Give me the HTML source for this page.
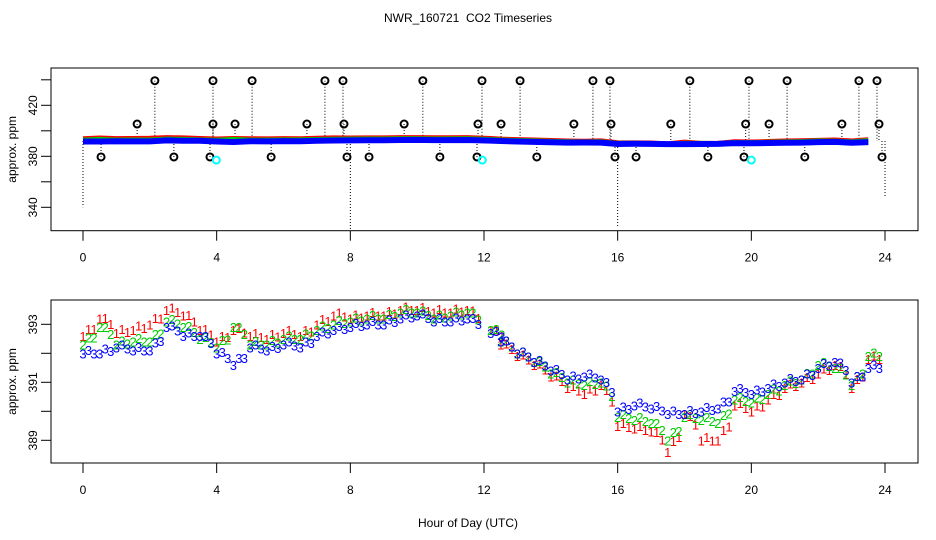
<!DOCTYPE html>
<html><head><meta charset="utf-8"><style>
html,body{margin:0;padding:0;background:#fff;}
svg{display:block;font-family:"Liberation Sans",sans-serif;}
</style></head><body>
<svg id="chart" width="936" height="540" viewBox="0 0 936 540">
<text x="468" y="22" text-anchor="middle" font-size="12" style="white-space:pre">NWR_160721  CO2 Timeseries</text>
<text x="468" y="527" text-anchor="middle" font-size="12">Hour of Day (UTC)</text>
<g id="topPanel"></g>
<g id="botPanel"></g>
</svg>
<script>
const hours = [0,0.5,1,1.5,2,2.5,3,3.5,4,4.5,5,5.5,6,6.5,7,7.5,8,8.5,9,9.5,10,10.5,11,11.5,12.2,12.5,13,13.5,14,14.5,15,15.5,16,16.5,17,17.5,18,18.5,19,19.5,20,20.5,21,21.5,22,22.5,23,23.5];
const series1 = [392.6,393.2,392.7,392.8,393.0,393.5,393.3,392.8,392.4,392.8,392.6,392.5,392.7,392.6,393.0,393.3,393.2,393.3,393.3,393.5,393.5,393.4,393.4,393.5,392.8,392.3,391.9,391.6,391.2,390.8,390.6,390.9,389.5,389.4,389.3,388.6,389.9,389.0,389.0,390.2,390.0,390.4,390.8,391.0,391.3,391.6,390.8,391.8];
const series2 = [392.3,392.9,392.3,392.4,392.4,393.1,392.9,392.5,392.2,392.9,392.3,392.3,392.5,392.5,392.8,393.0,393.1,393.2,393.2,393.4,393.4,393.2,393.3,393.4,392.8,392.4,392.0,391.7,391.3,391.0,390.9,391.0,389.8,389.7,389.6,389.0,389.8,389.7,389.6,390.4,390.3,390.6,390.9,391.1,391.6,391.5,390.9,391.9];
const series3 = [392.0,392.0,392.2,392.1,392.1,392.9,392.6,392.6,392.0,391.6,392.2,392.1,392.3,392.2,392.6,392.8,392.9,393.0,393.0,393.2,393.3,393.1,393.1,393.2,392.7,392.4,392.0,391.7,391.4,391.1,391.2,391.1,390.0,390.2,390.1,389.9,389.9,390.0,390.1,390.7,390.6,390.8,391.0,391.1,391.5,391.7,391.0,391.5];
const highHours = [2.15,3.89,5.06,7.24,7.78,10.17,11.94,13.08,15.26,15.77,18.16,19.93,21.07,23.22,23.76];
const midHours = [1.62,3.89,4.55,6.70,7.81,9.61,11.82,12.51,14.69,15.80,17.59,19.83,20.53,22.71,23.82];
const lowHours = [0.54,2.72,3.80,5.63,7.90,8.56,10.68,11.79,13.58,15.92,16.55,18.70,19.78,21.60,23.91];
const highValue = 439.3, midValue = 405.3, lowValue = 379.5;
const cyanHours = [3.99,11.95,20.0];
const cyanValue = 377;
const dropHours = [0.0,8.0,16.0,24.0];
const dropValues = [340,322,324,348];
const xTicks = [0,4,8,12,16,20,24];
const topYTicks = [340,360,380,400,420,440];
const topYLabels = ['340','','380','','420',''];
const botYTicks = [389,390,391,392,393];
const botYLabels = ['389','','391','','393'];

const NS='http://www.w3.org/2000/svg';
function mk(parent,tag,attrs){const e=document.createElementNS(NS,tag);for(const k in attrs)e.setAttribute(k,attrs[k]);parent.appendChild(e);return e;}
const X = h => 83 + h*(885-83)/24;
const Yt = v => 105.3 + (420-v)*25.5/20;
const Yb = v => 324.3 + (393-v)*29;

function frame(g,y0,y1,Y,yt,yl,name){
  const r=mk(g,'rect',{x:51,y:y0,width:867,height:y1-y0,fill:'none',stroke:'#000','stroke-width':1});
  
  
  xTicks.forEach(t=>{
    const l=mk(g,'line',{x1:X(t),x2:X(t),y1:y1,y2:y1+10,stroke:'#000'});
    
    
    const tx=mk(g,'text',{x:X(t),y:y1+31,'text-anchor':'middle','font-size':12});tx.textContent=t;
    
    
  });
  yt.forEach((t,i)=>{
    const y=Y(t);
    const l=mk(g,'line',{x1:41,x2:51,y1:y,y2:y,stroke:'#000'});
    
    
    if(yl[i]){const tx=mk(g,'text',{x:0,y:0,'text-anchor':'middle','font-size':12,transform:`translate(37,${y}) rotate(-90)`});tx.textContent=yl[i];
    
    }
  });
  const yl2=mk(g,'text',{x:0,y:0,'text-anchor':'middle','font-size':12,transform:`translate(16,${(y0+y1)/2}) rotate(-90)`});yl2.textContent='approx. ppm';
  
  
}
const gTop=document.getElementById('topPanel'), gBot=document.getElementById('botPanel');
frame(gTop,68,230.7,Yt,topYTicks,topYLabels,'top');
frame(gBot,300,463,Yb,botYTicks,botYLabels,'bottom');

dropHours.forEach((h,i)=>{
  const l=mk(gTop,'line',{x1:X(h),x2:X(h),y1:Yt(392),y2:Yt(dropValues[i]),stroke:'#000','stroke-dasharray':'1,2'});
  
  
});
[[highHours,highValue],[midHours,midValue],[lowHours,lowValue]].forEach(([hs,v])=>{
  hs.forEach(h=>{
    const l=mk(gTop,'line',{x1:X(h),x2:X(h),y1:Yt(v),y2:Yt(392),stroke:'#000','stroke-dasharray':'1,2'});
    
    
  });
});
const band=(s,c,w,off)=>mk(gTop,'polyline',{points:hours.map((h,i)=>X(h)+','+(Yt(s[i])+off)).join(' '),fill:'none',stroke:c,'stroke-width':w});
let b=band(series1,'#f00',5,-1.5);


b=band(series2,'#0c0',5,-0.5);


b=band(series3,'#00f',6,0.5);


[[highHours,highValue],[midHours,midValue],[lowHours,lowValue]].forEach(([hs,v])=>{
  hs.forEach(h=>{
    const c=mk(gTop,'circle',{cx:X(h),cy:Yt(v),r:3.5,fill:'none',stroke:'#000','stroke-width':2});
    
    
  });
});
cyanHours.forEach(h=>{
  const c=mk(gTop,'circle',{cx:X(h),cy:Yt(cyanValue),r:3.5,fill:'none',stroke:'#0ff','stroke-width':2});
  
  
});

[[series1,'#f00','1'],[series2,'#0c0','2'],[series3,'#00f','3']].forEach(([s,c,ch])=>{
  hours.forEach((h,i)=>{
    const nxt = i<s.length-1 ? s[i+1] : s[i];
    [0,0.33,0.66].forEach(f=>{
      const v = s[i] + (nxt-s[i])*f*0.6 + (f===0.33? 0.12 : 0);
      const t=mk(gBot,'text',{x:X(h+f*0.5),y:Yb(v)+5,'text-anchor':'middle','font-size':13,fill:c});t.textContent=ch;
      
      
    });
  });
});
</script>
</body></html>
